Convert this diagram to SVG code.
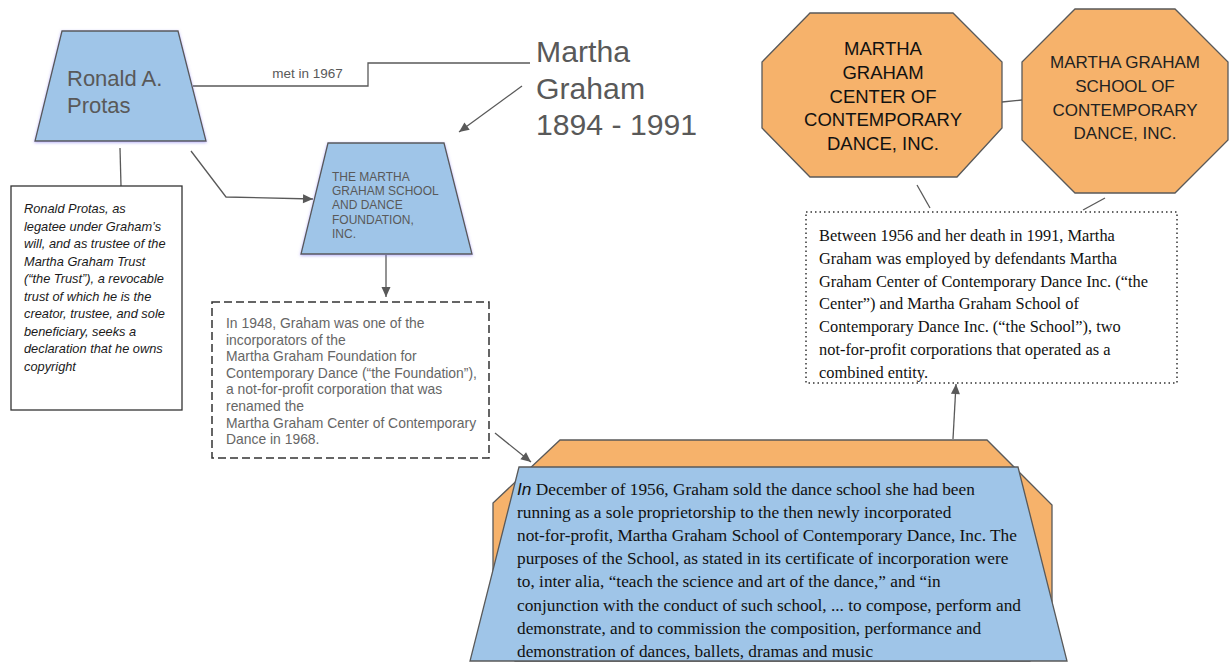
<svg xmlns="http://www.w3.org/2000/svg" width="1231" height="665" viewBox="0 0 1231 665">
<style>
.blue{fill:#9fc5e8;stroke:#595959;stroke-width:1.3}
.orange{fill:#f6b26b;stroke:#595959;stroke-width:1.3}
.con{fill:none;stroke:#595959;stroke-width:1.3}
.sans{font-family:"Liberation Sans",Arial,sans-serif}
.serif{font-family:"Liberation Serif","Times New Roman",serif}
.grey{fill:#595959}
</style>
<defs>
<marker id="arr" viewBox="0 0 10 10" refX="10" refY="5" markerWidth="11" markerHeight="10" markerUnits="userSpaceOnUse" orient="auto"><path d="M0,0.5 L10,5 L0,9.5z" fill="#595959"/></marker>
<filter id="glow" x="-10%" y="-10%" width="120%" height="125%"><feDropShadow dx="0" dy="1" stdDeviation="1.5" flood-color="#7a6cf0" flood-opacity="0.55"/></filter>
</defs>
<rect width="1231" height="665" fill="#ffffff"/>

<g id="connectors">
<polyline class="con" points="193,86 368,86 368,63 530,63"/>
<text class="sans grey" x="307.5" y="78" font-size="13.5" text-anchor="middle">met in 1967</text>
<line class="con" x1="522" y1="86" x2="459" y2="132" marker-end="url(#arr)"/>
<polyline class="con" points="191,151 226,197 313,199" marker-end="url(#arr)"/>
<line class="con" x1="120" y1="148" x2="121" y2="186"/>
<line class="con" x1="386" y1="255" x2="386" y2="297" marker-end="url(#arr)"/>
<line class="con" x1="495" y1="433" x2="531" y2="462" marker-end="url(#arr)"/>
<line class="con" x1="953" y1="439" x2="956" y2="384" marker-end="url(#arr)"/>
<line class="con" x1="1002" y1="102" x2="1022" y2="100"/>
<line class="con" x1="917" y1="185" x2="930" y2="208"/>
<line class="con" x1="1105" y1="198" x2="1083" y2="210"/>
</g>

<g id="ronald">
<polygon class="blue" filter="url(#glow)" points="62,31 178,31 206,141 35,141"/>
<text class="sans grey" font-size="22"><tspan x="67" y="86">Ronald A.</tspan><tspan x="67" y="113">Protas</tspan></text>
</g>

<g id="martha">
<text class="sans grey" font-size="30.2"><tspan x="536" y="62">Martha</tspan><tspan x="536" y="99">Graham</tspan><tspan x="536" y="135">1894 - 1991</tspan></text>
</g>

<g id="foundation">
<polygon class="blue" filter="url(#glow)" points="328,143 444,143 472,254 301,254"/>
<text class="sans grey" font-size="12"><tspan x="332" y="181">THE MARTHA</tspan><tspan x="332" y="195">GRAHAM SCHOOL</tspan><tspan x="332" y="209">AND DANCE</tspan><tspan x="332" y="224">FOUNDATION,</tspan><tspan x="332" y="238">INC.</tspan></text>
</g>

<g id="legatee">
<rect x="11" y="186" width="171" height="224" fill="#ffffff" stroke="#333333" stroke-width="1.3"/>
<text class="sans" font-size="12.8" font-style="italic" fill="#1a1a1a"><tspan x="24" y="213">Ronald Protas, as</tspan><tspan x="24" y="230.5">legatee under Graham’s</tspan><tspan x="24" y="248">will, and as trustee of the</tspan><tspan x="24" y="265.5">Martha Graham Trust</tspan><tspan x="24" y="283">(“the Trust”), a revocable</tspan><tspan x="24" y="300.5">trust of which he is the</tspan><tspan x="24" y="318">creator, trustee, and sole</tspan><tspan x="24" y="335.5">beneficiary, seeks a</tspan><tspan x="24" y="353">declaration that he owns</tspan><tspan x="24" y="370.5">copyright</tspan></text>
</g>

<g id="foundation1948">
<rect x="212" y="302" width="277" height="156" fill="#ffffff" stroke="#333333" stroke-width="1.5" stroke-dasharray="8,4"/>
<text class="sans" font-size="13.9" fill="#666666"><tspan x="226" y="328">In 1948, Graham was one of the</tspan><tspan x="226" y="344.6">incorporators of the</tspan><tspan x="226" y="361.2">Martha Graham Foundation for</tspan><tspan x="226" y="377.8">Contemporary Dance (“the Foundation”),</tspan><tspan x="226" y="394.4">a not-for-profit corporation that was</tspan><tspan x="226" y="411">renamed the</tspan><tspan x="226" y="427.6">Martha Graham Center of Contemporary</tspan><tspan x="226" y="444.2">Dance in 1968.</tspan></text>
</g>

<g id="center">
<polygon class="orange" points="810,13 953,13 1002,62 1002,128 957,177 810,177 762,128 762,62"/>
<text class="sans" font-size="18.5" fill="#111111" text-anchor="middle"><tspan x="883" y="55">MARTHA</tspan><tspan x="883" y="79">GRAHAM</tspan><tspan x="883" y="103">CENTER OF</tspan><tspan x="883" y="126">CONTEMPORARY</tspan><tspan x="883" y="150">DANCE, INC.</tspan></text>
</g>

<g id="school">
<polygon class="orange" points="1075,9 1175,9 1228,62 1228,140 1175,193 1075,193 1022,140 1022,62"/>
<text class="sans" font-size="17" fill="#222222" text-anchor="middle"><tspan x="1125" y="68">MARTHA GRAHAM</tspan><tspan x="1125" y="92">SCHOOL OF</tspan><tspan x="1125" y="116">CONTEMPORARY</tspan><tspan x="1125" y="139">DANCE, INC.</tspan></text>
</g>

<g id="employed">
<rect x="806" y="212" width="371" height="171" fill="#ffffff" stroke="#333333" stroke-width="1.5" stroke-dasharray="1.5,3"/>
<text class="serif" font-size="16.4" fill="#111111"><tspan x="819" y="241">Between 1956 and her death in 1991, Martha</tspan><tspan x="819" y="263.8">Graham was employed by defendants Martha</tspan><tspan x="819" y="286.6">Graham Center of Contemporary Dance Inc. (“the</tspan><tspan x="819" y="309.4">Center”) and Martha Graham School of</tspan><tspan x="819" y="332.2">Contemporary Dance Inc. (“the School”), two</tspan><tspan x="819" y="355">not-for-profit corporations that operated as a</tspan><tspan x="819" y="377.8">combined entity.</tspan></text>
</g>

<g id="sale1956">
<polygon class="orange" points="560,440 987,440 1052,505 1052,640 1030,661 515,661 493,640 493,503"/>
<polygon class="blue" points="519,467 1018,467 1067,661 470,661"/>
<text class="serif" font-size="17.3" fill="#111111"><tspan x="517" y="495"><tspan class="sans" font-style="italic">In</tspan> December of 1956, Graham sold the dance school she had been</tspan><tspan x="517" y="518.1">running as a sole proprietorship to the then newly incorporated</tspan><tspan x="517" y="541.2">not-for-profit, Martha Graham School of Contemporary Dance, Inc. The</tspan><tspan x="517" y="564.3">purposes of the School, as stated in its certificate of incorporation were</tspan><tspan x="517" y="587.4">to, inter alia, “teach the science and art of the dance,” and “in</tspan><tspan x="517" y="610.5">conjunction with the conduct of such school, ... to compose, perform and</tspan><tspan x="517" y="633.6">demonstrate, and to commission the composition, performance and</tspan><tspan x="517" y="656.7">demonstration of dances, ballets, dramas and music</tspan></text>
</g>
</svg>
